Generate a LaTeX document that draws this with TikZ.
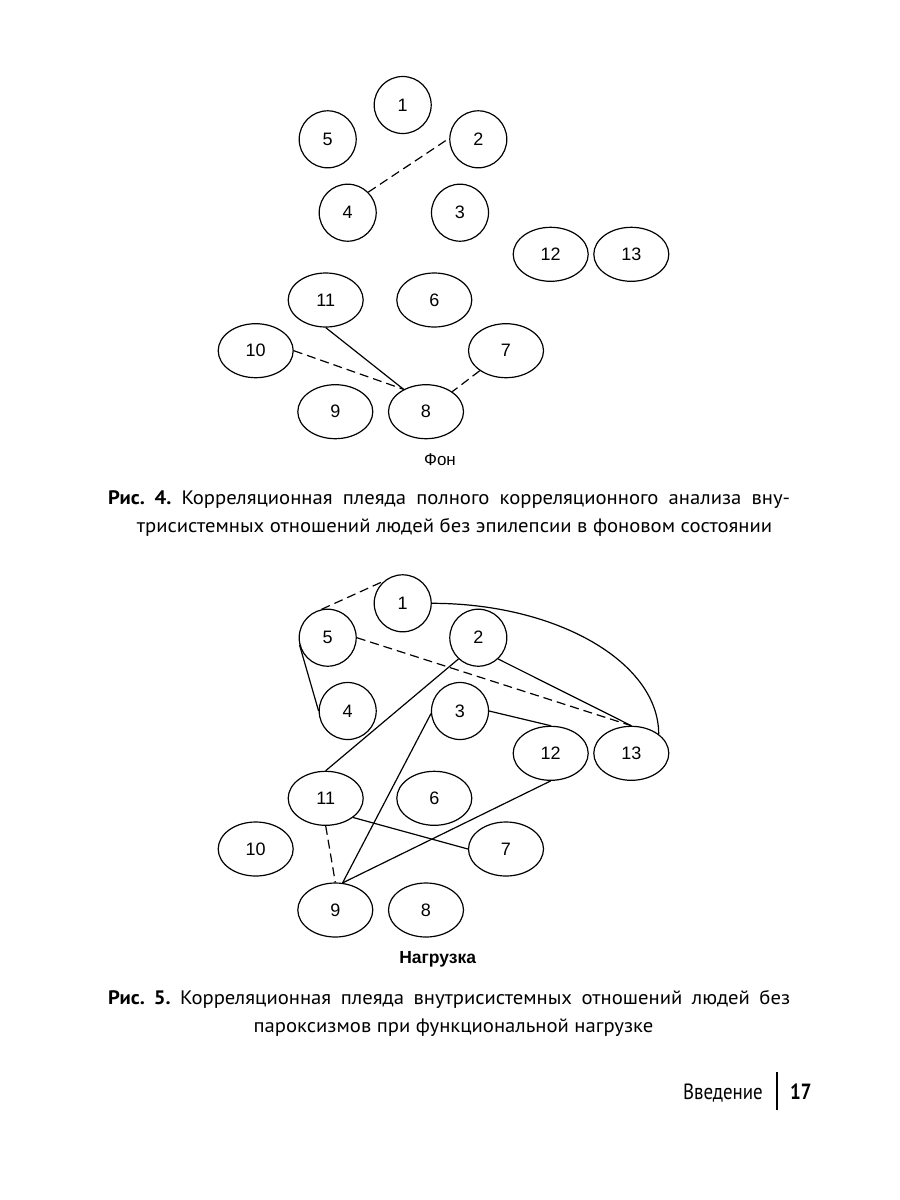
\documentclass[tikz,border=0pt]{standalone}
\usepackage{fontspec}
\setmainfont{Liberation Sans}
\newfontfamily\capfont[FakeStretch=1.06]{PT Sans}
\newfontfamily\footfont[FakeStretch=0.86]{PT Sans}
\usetikzlibrary{shapes.geometric}
\frenchspacing
\begin{document}
\begin{tikzpicture}[x=1pt,y=-1pt,
  circ/.style={draw, circle, minimum size=57pt, inner sep=0pt, line width=1.2pt, font=\fontsize{18}{20}\selectfont},
  ell/.style={draw, ellipse, minimum width=75pt, minimum height=54pt, inner sep=0pt, line width=1.2pt, font=\fontsize{18}{20}\selectfont},
  link/.style={line width=1.2pt},
  dlink/.style={line width=1.2pt, dash pattern=on 9pt off 5pt},
  capline/.style={anchor=base west, inner sep=0pt, font=\capfont\fontsize{19.5}{23}\selectfont},
  capmid/.style={anchor=base, inner sep=0pt, font=\capfont\fontsize{19.5}{23}\selectfont}
]
\useasboundingbox (0,0) rectangle (900,1200);
% ---------- Figure 4 ----------
\node[circ] (a1) at (402.7,105) {1};
\node[circ] (a5) at (327.7,139.3) {5};
\node[circ] (a2) at (478.3,139.3) {2};
\node[circ] (a4) at (347.7,212.7) {4};
\node[circ] (a3) at (460,212.7) {3};
\node[ell] (a12) at (550.7,254.3) {12};
\node[ell] (a13) at (631.3,254.3) {13};
\node[ell] (a11) at (325.7,300) {11};
\node[ell] (a6) at (434.3,300) {6};
\node[ell] (a10) at (255.7,350.7) {10};
\node[ell] (a7) at (506,350.7) {7};
\node[ell] (a9) at (335.3,411.7) {9};
\node[ell] (a8) at (426,411.7) {8};
\node[anchor=base, inner sep=0pt, font=\fontsize{17}{20}\selectfont] (fon) at (440,465) {Фон};
\draw[dlink] (a4.45) -- (a2.178);
\draw[link] (a11.south) -- (a8.135);
\draw[dlink] (a10.east) -- (a8.135);
\draw[dlink] (a7) -- (a8);
\node[capline] (c4a) at (108,504) {\makebox[682pt][s]{\textbf{Рис. 4.} Корреляционная плеяда полного корреляционного анализа вну-}};
\node[capmid] (c4b) at (454.5,532) {трисистемных отношений людей без эпилепсии в фоновом состоянии};
% ---------- Figure 5 ----------
\node[circ] (b1) at (402.7,603.3) {1};
\node[circ] (b5) at (327.7,637.7) {5};
\node[circ] (b2) at (478.3,637.7) {2};
\node[circ] (b4) at (347.7,711) {4};
\node[circ] (b3) at (460,711) {3};
\node[ell] (b12) at (550.7,753.3) {12};
\node[ell] (b13) at (631.3,753.3) {13};
\node[ell] (b11) at (325.7,798.3) {11};
\node[ell] (b6) at (434.3,798.3) {6};
\node[ell] (b10) at (255.7,849) {10};
\node[ell] (b7) at (506,849) {7};
\node[ell] (b9) at (335.3,910) {9};
\node[ell] (b8) at (426,910) {8};
\node[anchor=base, inner sep=0pt, font=\bfseries\fontsize{17.5}{20}\selectfont] (nag) at (437.7,963) {Нагрузка};
\draw[dlink] (b5.102) -- (b1.130);
\draw[link] (b1.east) .. controls +(125,0) and +(0,-72) .. (b13.35);
\draw[dlink] (b5.east) -- (b13.north);
\draw[link] (b2.313) -- (b13.north);
\draw[link] (b5.194) -- (b4.west);
\draw[link] (b2.227) -- (b11.north);
\draw[link] (b3.185) -- (b9.75);
\draw[link] (b3.east) -- (b12.north);
\draw[link] (b12.south) -- (b9.75);
\draw[link] (b11.325) -- (b7.west);
\draw[dlink] (b11.south) -- (b9.north);
\node[capline] (c5a) at (108,1004) {\makebox[682pt][s]{\textbf{Рис. 5.} Корреляционная плеяда внутрисистемных отношений людей без}};
\node[capmid] (c5b) at (453.5,1032) {пароксизмов при функциональной нагрузке};
% ---------- Footer ----------
\node[anchor=base east, inner sep=0pt, font=\footfont\fontsize{22}{26}\selectfont] (sec) at (763,1099) {Введение};
\coordinate (bart) at (777,1072);
\coordinate (barb) at (777,1110);
\draw[line width=2pt] (bart) -- (barb);
\node[anchor=base west, inner sep=0pt, font=\footfont\bfseries\fontsize{22}{26}\selectfont] (pg) at (790,1099) {17};
\end{tikzpicture}
\end{document}
